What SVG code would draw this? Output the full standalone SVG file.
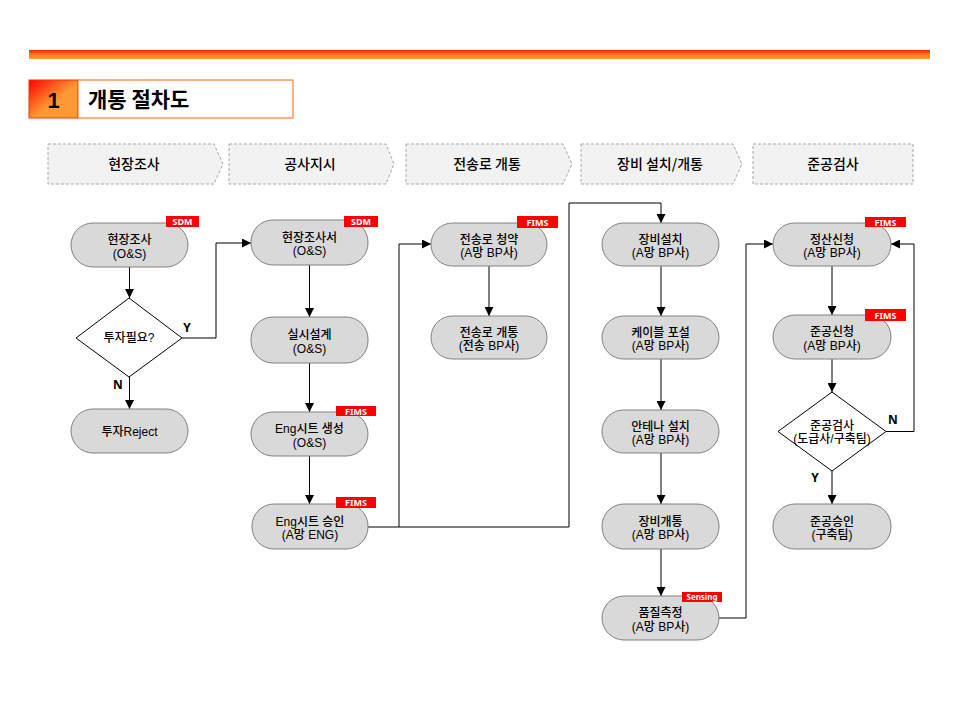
<svg xmlns="http://www.w3.org/2000/svg" width="960" height="720" viewBox="0 0 960 720">
<defs>
<linearGradient id="topbar" x1="0" y1="0" x2="0" y2="1">
<stop offset="0" stop-color="#ff2200"/>
<stop offset="0.5" stop-color="#ff7a22"/>
<stop offset="1" stop-color="#ff9a3c"/>
</linearGradient>
<linearGradient id="numbox" x1="0" y1="0" x2="1" y2="1">
<stop offset="0" stop-color="#ff0000"/>
<stop offset="0.55" stop-color="#ff9933"/>
<stop offset="1" stop-color="#ff9933"/>
</linearGradient>
<marker id="arr" viewBox="0 0 10 10" refX="10" refY="5" markerWidth="9" markerHeight="9" markerUnits="userSpaceOnUse" orient="auto">
<path d="M0,0 L10,5 L0,10 Z" fill="#000"/>
</marker>
<style>
.phase{fill:#f2f2f2;stroke:#a6a6a6;stroke-width:1;stroke-dasharray:3,2}
.ptxt{font-family:"Noto Sans CJK KR","Noto Sans",sans-serif;font-size:14px;font-weight:500;fill:#000;text-anchor:middle}
.node{fill:#d9d9d9;stroke:#808080;stroke-width:1}
.dia{fill:#fff;stroke:#000;stroke-width:1}
.ntxt{font-family:"Liberation Sans","Noto Sans CJK KR",sans-serif;font-size:12px;font-weight:500;fill:#000;text-anchor:middle}
.tag{fill:#ff0000}
.ttxt{font-family:"Noto Sans","Noto Sans CJK KR",sans-serif;font-size:9px;fill:#fff;text-anchor:middle;font-weight:bold}
.lbl{font-family:"Noto Sans","Noto Sans CJK KR",sans-serif;font-size:12px;font-weight:bold;fill:#000;text-anchor:middle}
.conn{fill:none;stroke:#000;stroke-width:1}
</style>
</defs>
<rect x="0" y="0" width="960" height="720" fill="#fff"/>

<g id="header">
<rect x="29" y="50" width="901" height="9" fill="url(#topbar)"/>
<rect x="29" y="80" width="49" height="38" fill="url(#numbox)" stroke="#ff3300" stroke-width="1"/>
<text x="53.5" y="108" font-family="Liberation Sans,Arial,sans-serif" font-size="22" font-weight="bold" text-anchor="middle" fill="#000">1</text>
<rect x="78" y="80" width="215" height="38" fill="#fff" stroke="#ff6600" stroke-width="1"/>
<text x="88" y="107" font-family="Noto Sans CJK KR,sans-serif" font-size="21" font-weight="bold" fill="#000">개통 절차도</text>
</g>

<g id="phases">
<g id="phase1"><path class="phase" d="M48,144 H214 L223,164 L214,184 H48 Z"/><text class="ptxt" x="134" y="169">현장조사</text></g>
<g id="phase2"><path class="phase" d="M229,144 H386 L394,164 L386,184 H229 Z"/><text class="ptxt" x="310" y="169">공사지시</text></g>
<g id="phase3"><path class="phase" d="M406,144 H563 L572,164 L563,184 H406 Z"/><text class="ptxt" x="487" y="169">전송로 개통</text></g>
<g id="phase4"><path class="phase" d="M581,144 H733 L742,164 L733,184 H581 Z"/><text class="ptxt" x="660" y="169">장비 설치/개통</text></g>
<g id="phase5"><rect class="phase" x="753" y="144" width="160" height="40"/><text class="ptxt" x="833" y="169">준공검사</text></g>
</g>

<g id="connectors">
<path class="conn" d="M129.5,267 V298" marker-end="url(#arr)"/>
<path class="conn" d="M129.5,377 V409" marker-end="url(#arr)"/>
<path class="conn" d="M182,338 H216 V243 H251" marker-end="url(#arr)"/>
<path class="conn" d="M309.5,265 V317" marker-end="url(#arr)"/>
<path class="conn" d="M309.5,363 V412" marker-end="url(#arr)"/>
<path class="conn" d="M309.5,456 V504" marker-end="url(#arr)"/>
<path class="conn" d="M368,527 H399 V244 H431" marker-end="url(#arr)"/>
<path class="conn" d="M399,527 H569 V203 H661 V223" marker-end="url(#arr)"/>
<path class="conn" d="M489,266 V316" marker-end="url(#arr)"/>
<path class="conn" d="M661,266 V316" marker-end="url(#arr)"/>
<path class="conn" d="M661,359 V410" marker-end="url(#arr)"/>
<path class="conn" d="M661,453 V504" marker-end="url(#arr)"/>
<path class="conn" d="M661,549 V596" marker-end="url(#arr)"/>
<path class="conn" d="M719,618 H746 V244 H773" marker-end="url(#arr)"/>
<path class="conn" d="M832,266 V315" marker-end="url(#arr)"/>
<path class="conn" d="M832,359 V392" marker-end="url(#arr)"/>
<path class="conn" d="M832,471 V504" marker-end="url(#arr)"/>
<path class="conn" d="M886,431.5 H914 V244 H891" marker-end="url(#arr)"/>
<text class="lbl" x="187" y="332">Y</text>
<text class="lbl" x="118" y="389">N</text>
<text class="lbl" x="893" y="424">N</text>
<text class="lbl" x="815" y="482">Y</text>
</g>

<g id="n-survey">
<rect class="node" x="71" y="223" width="117" height="44" rx="22"/>
<text class="ntxt" x="129.5" y="244">현장조사<tspan x="129.5" dy="13.5">(O&amp;S)</tspan></text>
<rect class="tag" x="166" y="216" width="33" height="11"/><text class="ttxt" x="182.5" y="225">SDM</text>
</g>
<g id="n-invest">
<path class="dia" d="M129,298 L182,338 L129,377 L76,338 Z"/>
<text class="ntxt" x="129" y="342">투자필요?</text>
</g>
<g id="n-reject">
<rect class="node" x="71" y="409" width="117" height="44" rx="22"/>
<text class="ntxt" x="129.5" y="436">투자Reject</text>
</g>

<g id="n-report">
<rect class="node" x="251" y="220" width="117" height="45" rx="22"/>
<text class="ntxt" x="309.5" y="241.5">현장조사서<tspan x="309.5" dy="13.5">(O&amp;S)</tspan></text>
<rect class="tag" x="344" y="216" width="34" height="11"/><text class="ttxt" x="361" y="225">SDM</text>
</g>
<g id="n-design">
<rect class="node" x="251" y="317" width="117" height="46" rx="22"/>
<text class="ntxt" x="309.5" y="339">실시설계<tspan x="309.5" dy="13.5">(O&amp;S)</tspan></text>
</g>
<g id="n-engmake">
<rect class="node" x="251" y="412" width="117" height="44" rx="22"/>
<text class="ntxt" x="309.5" y="433">Eng시트 생성<tspan x="309.5" dy="13.5">(O&amp;S)</tspan></text>
<rect class="tag" x="336" y="406" width="40" height="10"/><text class="ttxt" x="356" y="414.5">FIMS</text>
</g>
<g id="n-engok">
<rect class="node" x="252" y="504" width="116" height="45" rx="22"/>
<text class="ntxt" x="310" y="525.5">Eng시트 승인<tspan x="310" dy="13.5">(A망 ENG)</tspan></text>
<rect class="tag" x="336" y="497" width="40" height="11"/><text class="ttxt" x="356" y="506">FIMS</text>
</g>

<g id="n-lineorder">
<rect class="node" x="431" y="223" width="116" height="43" rx="21.5"/>
<text class="ntxt" x="489" y="243.5">전송로 청약<tspan x="489" dy="13.5">(A망 BP사)</tspan></text>
<rect class="tag" x="517" y="216" width="41" height="12"/><text class="ttxt" x="537.5" y="225.5">FIMS</text>
</g>
<g id="n-lineopen">
<rect class="node" x="431" y="316" width="116" height="43" rx="21.5"/>
<text class="ntxt" x="489" y="336.5">전송로 개통<tspan x="489" dy="13.5">(전송 BP사)</tspan></text>
</g>

<g id="n-install">
<rect class="node" x="602" y="223" width="117" height="43" rx="21.5"/>
<text class="ntxt" x="660.5" y="243.5">장비설치<tspan x="660.5" dy="13.5">(A망 BP사)</tspan></text>
</g>
<g id="n-cable">
<rect class="node" x="602" y="316" width="117" height="43" rx="21.5"/>
<text class="ntxt" x="660.5" y="336.5">케이블 포설<tspan x="660.5" dy="13.5">(A망 BP사)</tspan></text>
</g>
<g id="n-antenna">
<rect class="node" x="602" y="410" width="117" height="43" rx="21.5"/>
<text class="ntxt" x="660.5" y="430.5">안테나 설치<tspan x="660.5" dy="13.5">(A망 BP사)</tspan></text>
</g>
<g id="n-equipopen">
<rect class="node" x="602" y="504" width="117" height="45" rx="22"/>
<text class="ntxt" x="660.5" y="525.5">장비개통<tspan x="660.5" dy="13.5">(A망 BP사)</tspan></text>
</g>
<g id="n-quality">
<rect class="node" x="602" y="596" width="117" height="44" rx="22"/>
<text class="ntxt" x="660.5" y="617">품질측정<tspan x="660.5" dy="13.5">(A망 BP사)</tspan></text>
<rect class="tag" x="682" y="592" width="40" height="10"/><text class="ttxt" x="702" y="600" style="font-size:8px">Sensing</text>
</g>

<g id="n-settle">
<rect class="node" x="773" y="223" width="118" height="43" rx="21.5"/>
<text class="ntxt" x="832" y="243.5">정산신청<tspan x="832" dy="13.5">(A망 BP사)</tspan></text>
<rect class="tag" x="865" y="217" width="41" height="10"/><text class="ttxt" x="885.5" y="225.5">FIMS</text>
</g>
<g id="n-compreq">
<rect class="node" x="773" y="315" width="118" height="44" rx="22"/>
<text class="ntxt" x="832" y="336">준공신청<tspan x="832" dy="13.5">(A망 BP사)</tspan></text>
<rect class="tag" x="865" y="309" width="41" height="12"/><text class="ttxt" x="885.5" y="318.5">FIMS</text>
</g>
<g id="n-inspect">
<path class="dia" d="M832,392 L886,431.5 L832,471 L778,431.5 Z"/>
<text class="ntxt" x="832" y="429.5">준공검사<tspan x="832" dy="13.5">(도급사/구축팀)</tspan></text>
</g>
<g id="n-approve">
<rect class="node" x="773" y="504" width="118" height="45" rx="22"/>
<text class="ntxt" x="832" y="525.5">준공승인<tspan x="832" dy="13.5">(구축팀)</tspan></text>
</g>
</svg>
